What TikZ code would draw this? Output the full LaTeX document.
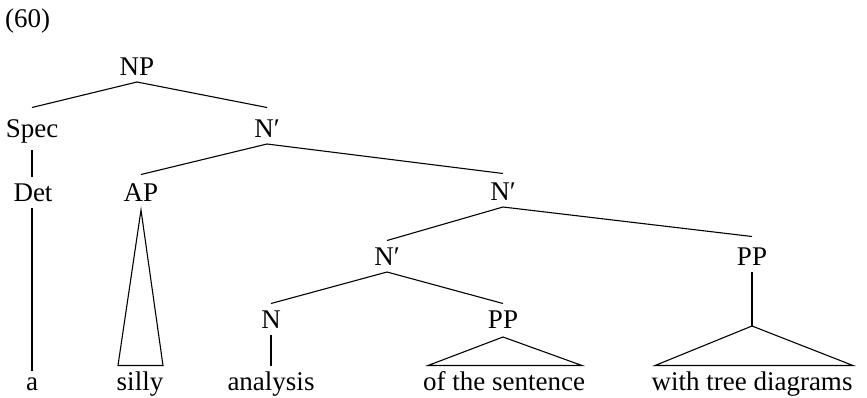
\documentclass[tikz,border=0pt]{standalone}
\usepackage{fontspec}
\setmainfont{Liberation Serif}
\usepackage{tikz}

\begin{document}
\begin{tikzpicture}[x=1pt,y=-1pt,
    font=\fontsize{27}{32}\selectfont,
    cat/.style={inner sep=0pt,outer xsep=0pt,outer ysep=7pt,
      text height=17.5pt,text depth=0pt,anchor=base},
    branch/.style={line width=1.1pt}]
  \useasboundingbox (0,0) rectangle (867,397);
  % example number
  \node[inner sep=0pt,anchor=base west] (num) at (5,27) {(60)};
  % category labels
  \foreach \name/\x/\y/\txt in {np/137/75/NP, spec/32/137/Spec, nb1/267/137/N′,
      det/33/201/Det, ap/141/201/AP, nb2/503/200/N′, nb3/387/265/N′,
      pp2/752/265/PP, n/271/328/N, pp1/503/328/PP} {
    \node[cat] (\name) at (\x,\y) {\txt};
  }
  % words (leaves)
  \foreach \name/\x/\txt in {wa/32/a, wsilly/140/silly, wanalysis/271/analysis,
      wsentence/504/of the sentence, wdiagrams/752/with tree diagrams} {
    \node[cat] (\name) at (\x,390) {\txt};
  }
  % branches
  \draw[branch] (np.south) -- ([yshift=5pt]spec.north);
  \draw[branch] (np.south) -- ([yshift=5pt]nb1.north);
  \draw[branch] ([yshift=-6pt]spec.south) -- (spec.south |- det.north);
  \draw[branch] (det.south -| wa.north) -- ([yshift=-5pt]wa.north);
  \draw[branch] (nb1.south) -- ([yshift=2pt]ap.north);
  \draw[branch] (nb1.south) -- ([yshift=2pt]nb2.north);
  \draw[branch] (nb2.south) -- (nb3.north);
  \draw[branch] (nb2.south) -- ([yshift=4pt]pp2.north);
  \draw[branch] (nb3.south) -- (n.north);
  \draw[branch] (nb3.south) -- (pp1.north);
  \draw[branch] (n.south) -- (wanalysis.north);
  % triangles
  \draw[branch] ([yshift=-2pt]ap.south) -- ([xshift=-22pt]wsilly.north)
    -- ([xshift=23pt]wsilly.north) -- cycle;
  \draw[branch] ([yshift=-2pt]pp1.south) -- ([xshift=-76pt]wsentence.north)
    -- ([xshift=78pt]wsentence.north) -- cycle;
  \coordinate (pp2tri) at (752,326);
  \draw[branch] (pp2.south) -- (pp2tri);
  \draw[branch] (pp2tri) -- ([xshift=-97pt]wdiagrams.north)
    -- ([xshift=101pt]wdiagrams.north) -- cycle;
\end{tikzpicture}
\end{document}
